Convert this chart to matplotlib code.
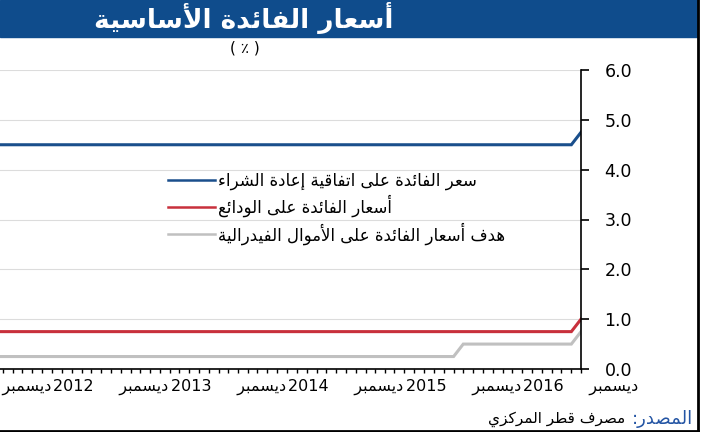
import pandas as pd
import matplotlib
matplotlib.use('Agg')
import matplotlib.pyplot as plt
import matplotlib.dates as mdates
from matplotlib.patches import Rectangle
from matplotlib.lines import Line2D
from matplotlib.ticker import FuncFormatter

plt.rcParams['font.family'] = ['DejaVu Sans']

# monthly data, Dec 2011 .. Dec 2016
months = pd.date_range('2011-12-01', '2016-12-01', freq='MS')
repo_rate = [4.50] * 60 + [4.75]
deposit_rate = [0.75] * 60 + [1.00]
fed_target = [0.25] * 48 + [0.50] * 12 + [0.75]

title = 'أسعار الفائدة الأساسية'
unit = '( ٪ )'
series_names = ['سعر الفائدة على اتفاقية إعادة الشراء',
                'أسعار الفائدة على الودائع',
                'هدف أسعار الفائدة على الأموال الفيدرالية']
series_colors = ['#1a4f8c', '#c8303c', '#c0c0c0']
month_name = 'ديسمبر'
source_label = 'المصدر:'
source_text = 'مصرف قطر المركزي'
y_ticks = [0, 1, 2, 3, 4, 5, 6]


# === minimal arabic shaping (presentation forms) + reversal for display === #
_forms = [('ء', 0xFE80, 1), ('آ', 0xFE81, 2), ('أ', 0xFE83, 2), ('ؤ', 0xFE85, 2),
          ('إ', 0xFE87, 2), ('ئ', 0xFE89, 4), ('ا', 0xFE8D, 2), ('ب', 0xFE8F, 4),
          ('ة', 0xFE93, 2), ('ت', 0xFE95, 4), ('ث', 0xFE99, 4), ('ج', 0xFE9D, 4),
          ('ح', 0xFEA1, 4), ('خ', 0xFEA5, 4), ('د', 0xFEA9, 2), ('ذ', 0xFEAB, 2),
          ('ر', 0xFEAD, 2), ('ز', 0xFEAF, 2), ('س', 0xFEB1, 4), ('ش', 0xFEB5, 4),
          ('ص', 0xFEB9, 4), ('ض', 0xFEBD, 4), ('ط', 0xFEC1, 4), ('ظ', 0xFEC5, 4),
          ('ع', 0xFEC9, 4), ('غ', 0xFECD, 4), ('ف', 0xFED1, 4), ('ق', 0xFED5, 4),
          ('ك', 0xFED9, 4), ('ل', 0xFEDD, 4), ('م', 0xFEE1, 4), ('ن', 0xFEE5, 4),
          ('ه', 0xFEE9, 4), ('و', 0xFEED, 2), ('ى', 0xFEEF, 2), ('ي', 0xFEF1, 4)]
FORMS = {c: (base, n) for c, base, n in _forms}
LAM_ALEF = {'آ': 0xFEF5, 'أ': 0xFEF7, 'إ': 0xFEF9, 'ا': 0xFEFB}


def shape(text):
    tokens = []
    i = 0
    while i < len(text):
        if text[i] == 'ل' and i + 1 < len(text) and text[i + 1] in LAM_ALEF:
            tokens.append(('LA', text[i + 1]))
            i += 2
        else:
            tokens.append(text[i])
            i += 1

    def join_next(t):
        return not isinstance(t, tuple) and t in FORMS and FORMS[t][1] == 4

    def join_prev(t):
        return isinstance(t, tuple) or (t in FORMS and FORMS[t][1] >= 2)

    out = []
    for k, t in enumerate(tokens):
        prev_c = k > 0 and join_next(tokens[k - 1]) and join_prev(t)
        next_c = k < len(tokens) - 1 and join_next(t) and join_prev(tokens[k + 1])
        if isinstance(t, tuple):
            out.append(chr(LAM_ALEF[t[1]] + (1 if prev_c else 0)))
        elif t in FORMS:
            base, n = FORMS[t]
            if n == 1:
                off = 0
            elif n == 2:
                off = 1 if prev_c else 0
            else:
                off = {(False, False): 0, (True, False): 1,
                       (False, True): 2, (True, True): 3}[(prev_c, next_c)]
            out.append(chr(base + off))
        else:
            out.append(t)
    return ''.join(out)[::-1]


fig = plt.figure(figsize=(7.02, 4.32), dpi=100)

# title band and frame
fig.add_artist(Rectangle((0, 1 - 37 / 432), 697 / 702, 37 / 432,
                         transform=fig.transFigure, color='#0f4c8c', zorder=0))
fig.add_artist(Line2D([698 / 702, 698 / 702], [0, 1], transform=fig.transFigure,
                      color='black', lw=2))
fig.add_artist(Line2D([0, 698 / 702], [1.5 / 432, 1.5 / 432], transform=fig.transFigure,
                      color='black', lw=2))
fig.text(244 / 702, 1 - 18 / 432, shape(title), color='white', fontsize=19,
         fontweight='bold', ha='center', va='center')
fig.text(245 / 702, 1 - 48 / 432, unit, fontsize=11, ha='center', va='center')

# the chart is cut at the left edge, so the axes start slightly off-canvas
ax = fig.add_axes([-10 / 702, 63 / 432, 591 / 702, 299 / 432])
for vals, name, col in zip([repo_rate, deposit_rate, fed_target], series_names, series_colors):
    ax.plot(months, vals, color=col, lw=2.2, label=shape(name), solid_joinstyle='miter')

ax.set_ylim(0, 6)
ax.set_yticks(y_ticks)
ax.yaxis.set_major_formatter(FuncFormatter(lambda v, p: f'{v:.1f}'))
ax.yaxis.tick_right()
ax.set_xlim(pd.Timestamp('2011-11-21'), pd.Timestamp('2016-12-01'))
ax.xaxis.set_major_locator(mdates.MonthLocator(bymonth=12))
ax.xaxis.set_minor_locator(mdates.MonthLocator())
ax.xaxis.set_major_formatter(FuncFormatter(
    lambda v, p: mdates.num2date(v).strftime('%Y') + '     ' + shape(month_name)))

for s in ['left', 'top']:
    ax.spines[s].set_visible(False)
for s in ['right', 'bottom']:
    ax.spines[s].set_linewidth(1.2)
ax.grid(axis='y', color='#dcdcdc', lw=0.8)
ax.set_axisbelow(True)
ax.tick_params(axis='y', direction='out', length=6, width=1.2, pad=11, labelsize=12.5)
ax.tick_params(axis='x', which='both', direction='out', length=3, width=1, pad=4,
               labelsize=11.5)

leg = ax.legend(loc='upper left', bbox_to_anchor=(168 / 702, 1 - 172 / 432),
                bbox_transform=fig.transFigure, frameon=False, fontsize=12,
                handlelength=2.8, handletextpad=0.2, labelspacing=0.28,
                borderaxespad=0, borderpad=0)
for h in leg.get_lines():
    h.set_linewidth(1.8)

fig.text(693 / 702, 13 / 432, shape(source_label), color='#2455a4', fontsize=13,
         ha='right', va='center')
fig.text(625 / 702, 13 / 432, shape(source_text), color='black', fontsize=11,
         ha='right', va='center')

fig.savefig('out.png', dpi=100)
